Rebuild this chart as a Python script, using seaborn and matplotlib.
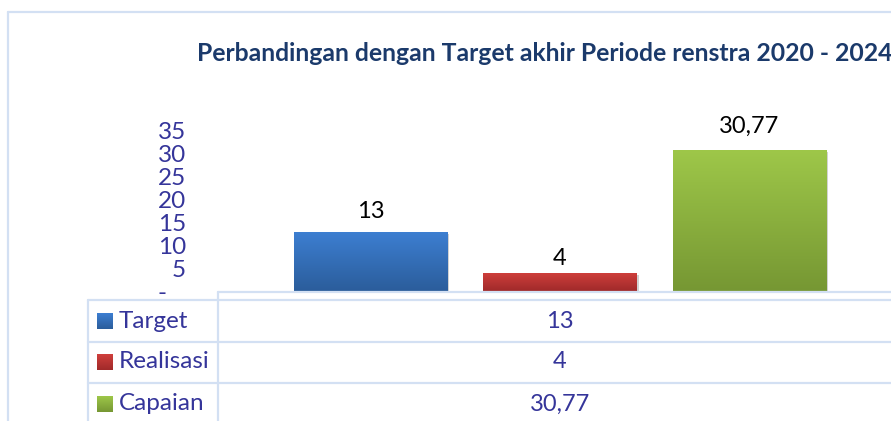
import numpy as np
import pandas as pd
import matplotlib
matplotlib.use("Agg")
import matplotlib.pyplot as plt
import matplotlib.patheffects as pe
from matplotlib.lines import Line2D
from matplotlib.colors import LinearSegmentedColormap
import seaborn as sns

# ---- data ----
series = ["Target", "Realisasi", "Capaian"]
values = [13, 4, 30.77]
y_ticks = [0, 5, 10, 15, 20, 25, 30, 35]
y_tick_labels = ["-   ", "5", "10", "15", "20", "25", "30", "35"]
title = "Perbandingan dengan Target akhir Periode renstra 2020 - 2024"

# gradient colours (top, bottom) per series
grad = {
    "Target": ("#3D7FD2", "#2B5D9B"),
    "Realisasi": ("#D03F3C", "#A02A2A"),
    "Capaian": ("#9EC749", "#769733"),
}

W, H = 891, 421
sns.set_theme(style="white")
plt.rcParams["font.family"] = ["Lato", "DejaVu Sans"]

fig = plt.figure(figsize=(W / 100, H / 100), dpi=100)
fig.patch.set_facecolor("white")


def fx(x):
    return x / W


def fy(y):
    return 1 - y / H


line_col = "#D3E0F3"
text_col = "#35359A"

# plot area: x 218..891 px, y 131 (35) .. 291 (0) px
ax = fig.add_axes([fx(218), fy(291), fx(891) - fx(218), (291 - 131) / H])
ax.set_facecolor("none")

df = pd.DataFrame({"kat": [""] * len(series), "seri": series, "nilai": values})
sns.barplot(data=df, x="kat", y="nilai", hue="seri", hue_order=series,
            palette=[grad[s][0] for s in series], width=0.8, gap=0.19,
            legend=False, ax=ax, errorbar=None)

ax.set_xlim(-0.4817, 0.4662)
ax.set_ylim(0, 35)
ax.set_xlabel("")
ax.set_ylabel("")
ax.set_xticks([])
ax.set_yticks(y_ticks)
ax.set_yticklabels(y_tick_labels)
ax.tick_params(axis="y", length=0, pad=23, labelsize=17.5, labelcolor=text_col)
for s in ax.spines.values():
    s.set_visible(False)

# gradient fill for each bar, clipped to the bar rectangle
gy = np.linspace(0, 1, 256).reshape(-1, 1)
label_pad = [7, 3, 10]
for cont, name, pad in zip(ax.containers, series, label_pad):
    cmap = LinearSegmentedColormap.from_list(name, [grad[name][1], grad[name][0]])
    for p in cont.patches:
        x0, y0 = p.get_x(), p.get_y()
        w, h = p.get_width(), p.get_height()
        p.set_facecolor("none")
        p.set_edgecolor("none")
        p.set_clip_on(False)
        p.set_path_effects([pe.SimplePatchShadow(offset=(1.5, -1.5), shadow_rgbFace="#808080", alpha=0.35),
                            pe.Normal()])
        im = ax.imshow(gy, cmap=cmap, aspect="auto", origin="lower",
                       extent=[x0, x0 + w, y0, y0 + h], zorder=3, interpolation="bicubic")
        im.set_clip_path(p)
    labels = [f"{v:g}".replace(".", ",") for v in cont.datavalues]
    ax.bar_label(cont, labels=labels, padding=pad, fontsize=17, color="black")

ax.set_xlim(-0.4817, 0.4662)
ax.set_ylim(0, 35)

# outer chart frame
fig.add_artist(Line2D([fx(8), fx(891)], [fy(12), fy(12)], color=line_col, lw=1.6))
fig.add_artist(Line2D([fx(8), fx(8)], [fy(12), fy(421)], color=line_col, lw=1.6))

# title
fig.text(fx(197), fy(61), title, ha="left", va="baseline", fontsize=17.8,
         fontweight="bold", color="#1B3A6B")

# data table grid
for yy, x_start in [(292, 218), (300, 88), (342, 88), (383, 88)]:
    fig.add_artist(Line2D([fx(x_start), fx(891)], [fy(yy), fy(yy)], color=line_col, lw=1.6))
fig.add_artist(Line2D([fx(88), fx(88)], [fy(300), fy(421)], color=line_col, lw=1.6))
fig.add_artist(Line2D([fx(218), fx(218)], [fy(292), fy(421)], color=line_col, lw=1.6))

# data table rows: legend key, series name, value
row_centers = [321, 362, 404]
for name, val, yc in zip(series, values, row_centers):
    kax = fig.add_axes([fx(97), fy(yc + 8), 16 / W, 16 / H])
    kcmap = LinearSegmentedColormap.from_list(name + "_k", [grad[name][1], grad[name][0]])
    kax.imshow(gy, cmap=kcmap, aspect="auto", origin="lower", extent=[0, 1, 0, 1])
    kax.set_axis_off()
    fig.text(fx(119), fy(yc), name, ha="left", va="center", fontsize=17.5, color=text_col)
    fig.text(fx(560), fy(yc), f"{val:g}".replace(".", ","), ha="center", va="center",
             fontsize=17, color=text_col)

fig.savefig("out.png", dpi=100, facecolor="white")
